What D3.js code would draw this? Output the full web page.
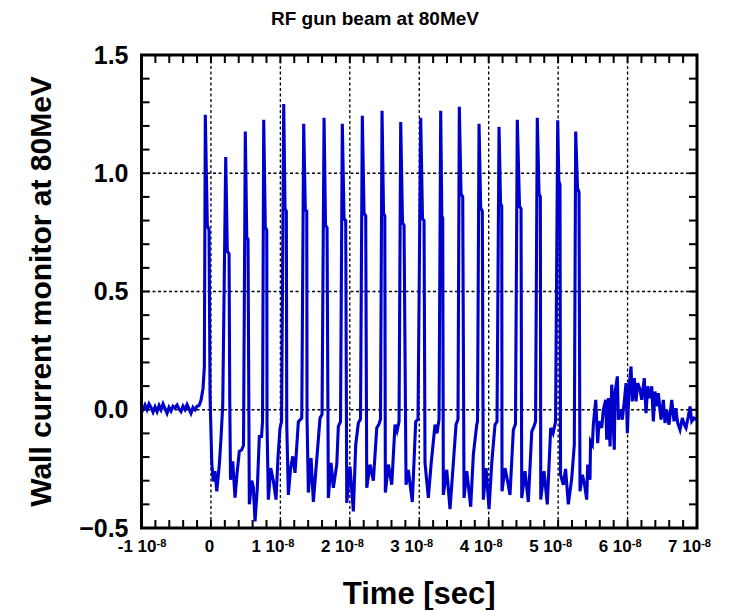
<!DOCTYPE html>
<html lang="en">
<head>
  <meta charset="utf-8">
  <title>RF gun beam at 80MeV</title>
  <script src="https://d3js.org/d3.v7.min.js"></script>
  <style>
    body { margin: 0; background: #fff; }
    text { font-family: "Liberation Sans", Arial, Helvetica, sans-serif; font-weight: bold; fill: #000; }
  </style>
</head>
<body>
<script>
// wall current monitor trace, time in ns, signal in V
var preTrigger = [
  [-10.0, -0.01], [-9.78, 0.0], [-9.49, 0.02], [-9.20, 0.0], [-8.91, 0.025], [-8.63, 0.01],
  [-8.34, -0.01], [-8.05, 0.012], [-7.76, -0.008], [-7.47, 0.018], [-7.19, 0.0], [-6.90, 0.025],
  [-6.61, 0.005], [-6.32, -0.015], [-6.04, 0.01], [-5.75, -0.005], [-5.46, 0.015], [-5.17, 0.008],
  [-4.88, 0.02], [-4.60, 0.003], [-4.31, -0.008], [-4.02, 0.015], [-3.73, 0.0], [-3.44, 0.022],
  [-3.16, 0.004], [-2.87, -0.015], [-2.58, 0.01], [-2.29, 0.0], [-2.00, 0.015], [-1.71, 0.018],
  [-1.43, 0.04], [-1.14, 0.09], [-0.95, 0.18]
];

var bunchTrain = [
  [-0.81, 1.247], [-0.52, 0.78], [-0.27, 0.76], [-0.13, 0.06], [0.12, -0.225], [0.35, -0.303], [0.59, -0.26], [0.84, -0.345], [1.21, -0.232], [1.45, -0.12], [1.70, 0.02],
  [2.13, 1.069], [2.36, 0.67], [2.61, 0.66], [2.71, 0.04], [2.82, -0.296], [3.14, -0.218], [3.47, -0.372], [3.76, -0.27], [4.09, -0.176], [4.44, -0.169], [4.69, -0.15],
  [4.95, 1.176], [5.16, 0.73], [5.34, 0.72], [5.53, -0.40], [5.88, -0.30], [6.11, -0.33], [6.35, -0.472], [6.68, -0.33], [6.97, -0.113], [7.29, -0.113], [7.43, -0.05],
  [7.60, 1.226], [7.83, 0.77], [8.04, 0.76], [8.08, -0.063], [8.27, -0.38], [8.61, -0.247], [8.99, -0.30], [9.37, -0.38], [9.66, -0.2], [9.95, -0.077], [10.17, -0.05],
  [10.48, 1.293], [10.67, 0.85], [10.86, 0.84], [10.92, -0.063], [11.15, -0.36], [11.46, -0.25], [11.78, -0.197], [12.11, -0.267], [12.59, -0.05], [13.08, -0.035],
  [13.36, 1.209], [13.59, 0.845], [13.80, 0.84], [13.84, -0.035], [14.03, -0.35], [14.42, -0.204], [14.75, -0.39], [15.24, -0.21], [15.71, -0.035], [16.00, -0.02],
  [16.29, 1.235], [16.50, 0.78], [16.72, 0.77], [16.91, -0.373], [17.30, -0.225], [17.63, -0.33], [18.12, -0.232], [18.35, -0.07], [18.66, -0.05],
  [18.92, 1.209], [19.17, 0.807], [19.41, 0.80], [19.56, -0.394], [20.03, -0.24], [20.51, -0.43], [20.85, -0.148], [21.23, -0.056], [21.54, -0.04],
  [21.80, 1.243], [22.05, 0.83], [22.29, 0.82], [22.44, -0.33], [22.91, -0.232], [23.39, -0.30], [23.88, -0.077], [24.21, -0.06], [24.42, -0.04],
  [24.64, 1.264], [24.86, 0.83], [25.04, 0.82], [25.12, -0.35], [25.55, -0.232], [26.04, -0.317], [26.51, -0.063], [26.80, -0.09], [27.09, -0.05],
  [27.33, 1.217], [27.59, 0.79], [27.81, 0.78], [28.10, -0.317], [28.43, -0.254], [29.00, -0.39], [29.49, -0.05], [29.82, -0.04],
  [30.21, 1.235], [30.47, 0.807], [30.69, 0.80], [30.83, -0.225], [31.31, -0.373], [31.70, -0.232], [32.27, -0.063], [32.56, -0.1], [32.85, -0.04],
  [33.09, 1.264], [33.25, 0.82], [33.38, 0.81], [33.47, -0.36], [33.96, -0.254], [34.43, -0.42], [34.91, -0.225], [35.30, -0.063], [35.58, -0.04],
  [35.77, 1.281], [36.02, 0.913], [36.26, 0.90], [36.45, -0.373], [36.84, -0.26], [37.41, -0.41], [37.79, -0.19], [38.28, -0.063], [38.39, -0.05],
  [38.61, 1.209], [38.85, 0.853], [39.08, 0.84], [39.23, -0.38], [39.62, -0.247], [40.05, -0.42], [40.44, -0.225], [40.91, -0.063], [41.20, -0.05],
  [41.49, 1.196], [41.71, 0.873], [41.88, 0.86], [41.92, -0.345], [42.35, -0.247], [42.71, -0.30], [43.07, -0.36], [43.55, -0.085], [43.86, -0.06],
  [44.12, 1.226], [44.44, 0.86], [44.66, 0.85], [44.76, -0.373], [45.23, -0.26], [45.71, -0.39], [46.20, -0.092], [46.53, -0.07], [46.75, -0.05],
  [47.00, 1.235], [47.25, 0.913], [47.44, 0.90], [47.50, -0.38], [47.97, -0.26], [48.44, -0.40], [48.93, -0.077], [49.27, -0.1], [49.63, -0.05],
  [49.94, 1.224], [50.10, 0.967], [50.27, 0.95], [50.35, -0.275], [50.75, -0.317], [51.07, -0.25], [51.47, -0.40], [51.96, -0.29], [52.33, -0.148],
  [52.53, 1.176], [52.79, 0.937], [53.01, 0.92]
];

var afterTrain = [
  [53.15, -0.345], [53.49, -0.275], [53.77, -0.31], [54.12, -0.38], [54.26, -0.232], [54.59, -0.296],
  [54.67, -0.134], [54.93, -0.148], [55.07, -0.063], [55.42, 0.042], [55.70, -0.141], [55.89, -0.049],
  [56.28, -0.077], [56.51, 0.0], [56.85, 0.042], [57.00, -0.127], [57.23, 0.049], [57.48, -0.155],
  [57.72, 0.106], [58.09, -0.169], [58.19, 0.07], [58.53, 0.141], [58.67, -0.042], [59.01, 0.0],
  [59.24, -0.042], [59.53, 0.035], [59.78, 0.113], [59.97, -0.099], [60.21, 0.092], [60.50, 0.183],
  [60.68, 0.035], [60.97, 0.134], [61.22, 0.035], [61.46, 0.113], [61.80, 0.085], [62.04, 0.042],
  [62.41, 0.134], [62.66, -0.014], [62.90, 0.099], [63.23, 0.049], [63.48, 0.099], [63.71, -0.049],
  [63.95, 0.077], [64.20, 0.014], [64.43, 0.07], [64.82, -0.042], [65.15, 0.042], [65.39, -0.056],
  [65.64, 0.0], [65.97, -0.063], [66.36, 0.042], [66.69, -0.049], [66.94, 0.007], [67.22, -0.056],
  [67.55, -0.085], [67.89, -0.035], [68.17, -0.063], [68.42, -0.077], [68.75, -0.028], [69.00, 0.014],
  [69.24, -0.049], [69.57, -0.035], [69.96, -0.042]
];

var xMajor = [-1e-8, 0, 1e-8, 2e-8, 3e-8, 4e-8, 5e-8, 6e-8, 7e-8];
var yMajor = [-0.5, 0.0, 0.5, 1.0, 1.5];

var width = 733, height = 610;
var margin = {top: 55, right: 36, bottom: 82, left: 141.5};
var w = width - margin.left - margin.right;
var h = height - margin.top - margin.bottom;

var svg = d3.select("body").append("svg")
  .attr("width", width)
  .attr("height", height);

var g = svg.append("g")
  .attr("transform", "translate(" + margin.left + "," + margin.top + ")");

var x = d3.scaleLinear().domain([-1e-8, 7e-8]).range([0, w]);
var y = d3.scaleLinear().domain([-0.5, 1.5]).range([h, 0]);

var xMinor = d3.range(-50, 351, 10).map(function(k) { return k * 2e-10; });
var yMinor = d3.range(-5, 16).map(function(k) { return k / 10; });

// dotted grid at the major ticks
g.selectAll(".gx").data(xMajor.slice(1, -1)).enter().append("line")
  .attr("x1", function(d) { return x(d); }).attr("x2", function(d) { return x(d); })
  .attr("y1", 0).attr("y2", h)
  .attr("stroke", "#000").attr("stroke-width", 1.3).attr("stroke-dasharray", "3,2.5");
g.selectAll(".gy").data(yMajor.slice(1, -1)).enter().append("line")
  .attr("x1", 0).attr("x2", w)
  .attr("y1", function(d) { return y(d); }).attr("y2", function(d) { return y(d); })
  .attr("stroke", "#000").attr("stroke-width", 1.3).attr("stroke-dasharray", "3,2.5");

// minor ticks on all four sides, pointing in
var tl = 8;
var ticks = g.append("g").attr("stroke", "#000").attr("stroke-width", 2);
ticks.selectAll(".tb").data(xMinor).enter().append("line")
  .attr("x1", function(d) { return x(d); }).attr("x2", function(d) { return x(d); })
  .attr("y1", h).attr("y2", h - tl);
ticks.selectAll(".tt").data(xMinor).enter().append("line")
  .attr("x1", function(d) { return x(d); }).attr("x2", function(d) { return x(d); })
  .attr("y1", 0).attr("y2", tl);
ticks.selectAll(".tl").data(yMinor).enter().append("line")
  .attr("x1", 0).attr("x2", tl)
  .attr("y1", function(d) { return y(d); }).attr("y2", function(d) { return y(d); });
ticks.selectAll(".tr").data(yMinor).enter().append("line")
  .attr("x1", w).attr("x2", w - tl)
  .attr("y1", function(d) { return y(d); }).attr("y2", function(d) { return y(d); });

// the trace
var trace = preTrigger.concat(bunchTrain, afterTrain);
var line = d3.line()
  .x(function(d) { return x(d[0] * 1e-9); })
  .y(function(d) { return y(d[1]); });

g.append("clipPath").attr("id", "clip")
  .append("rect").attr("width", w).attr("height", h);

g.append("path")
  .datum(trace)
  .attr("clip-path", "url(#clip)")
  .attr("fill", "none")
  .attr("stroke", "#0000cc")
  .attr("stroke-width", 3.1)
  .attr("d", line);

// frame
g.append("rect")
  .attr("width", w).attr("height", h)
  .attr("fill", "none").attr("stroke", "#000").attr("stroke-width", 3);

// y tick labels
var yAxis = g.append("g")
  .call(d3.axisLeft(y).tickValues(yMajor).tickSize(0).tickPadding(13).tickFormat(d3.format(".1f")));
yAxis.select(".domain").remove();
yAxis.selectAll("text").attr("font-size", 25).attr("font-family", null);

// x tick labels, "n 10^-8"
var xAxis = g.append("g")
  .attr("transform", "translate(0," + h + ")")
  .call(d3.axisBottom(x).tickValues(xMajor).tickSize(0).tickPadding(12).tickFormat(""));
xAxis.select(".domain").remove();
xAxis.selectAll("text")
  .attr("font-size", 17).attr("font-family", null)
  .attr("dx", function(d) { return d === 0 ? -2 : (d < 0 ? 0 : -8); })
  .each(function(d) {
    var t = d3.select(this);
    var m = Math.round(d / 1e-8);
    if (m === 0) { t.text("0"); return; }
    t.append("tspan").text(m + " 10");
    t.append("tspan").attr("dy", "-0.45em").attr("font-size", 11).text("-8");
  });

// titles
svg.append("text")
  .attr("x", 375).attr("y", 25)
  .attr("text-anchor", "middle").attr("font-size", 19)
  .text("RF gun beam at 80MeV");

svg.append("text")
  .attr("x", margin.left + w / 2).attr("y", 604)
  .attr("text-anchor", "middle").attr("font-size", 31)
  .text("Time [sec]");

svg.append("text")
  .attr("transform", "translate(51," + (margin.top + h / 2) + ") rotate(-90)")
  .attr("text-anchor", "middle").attr("font-size", 30)
  .text("Wall current monitor at 80MeV");
</script>
</body>
</html>
